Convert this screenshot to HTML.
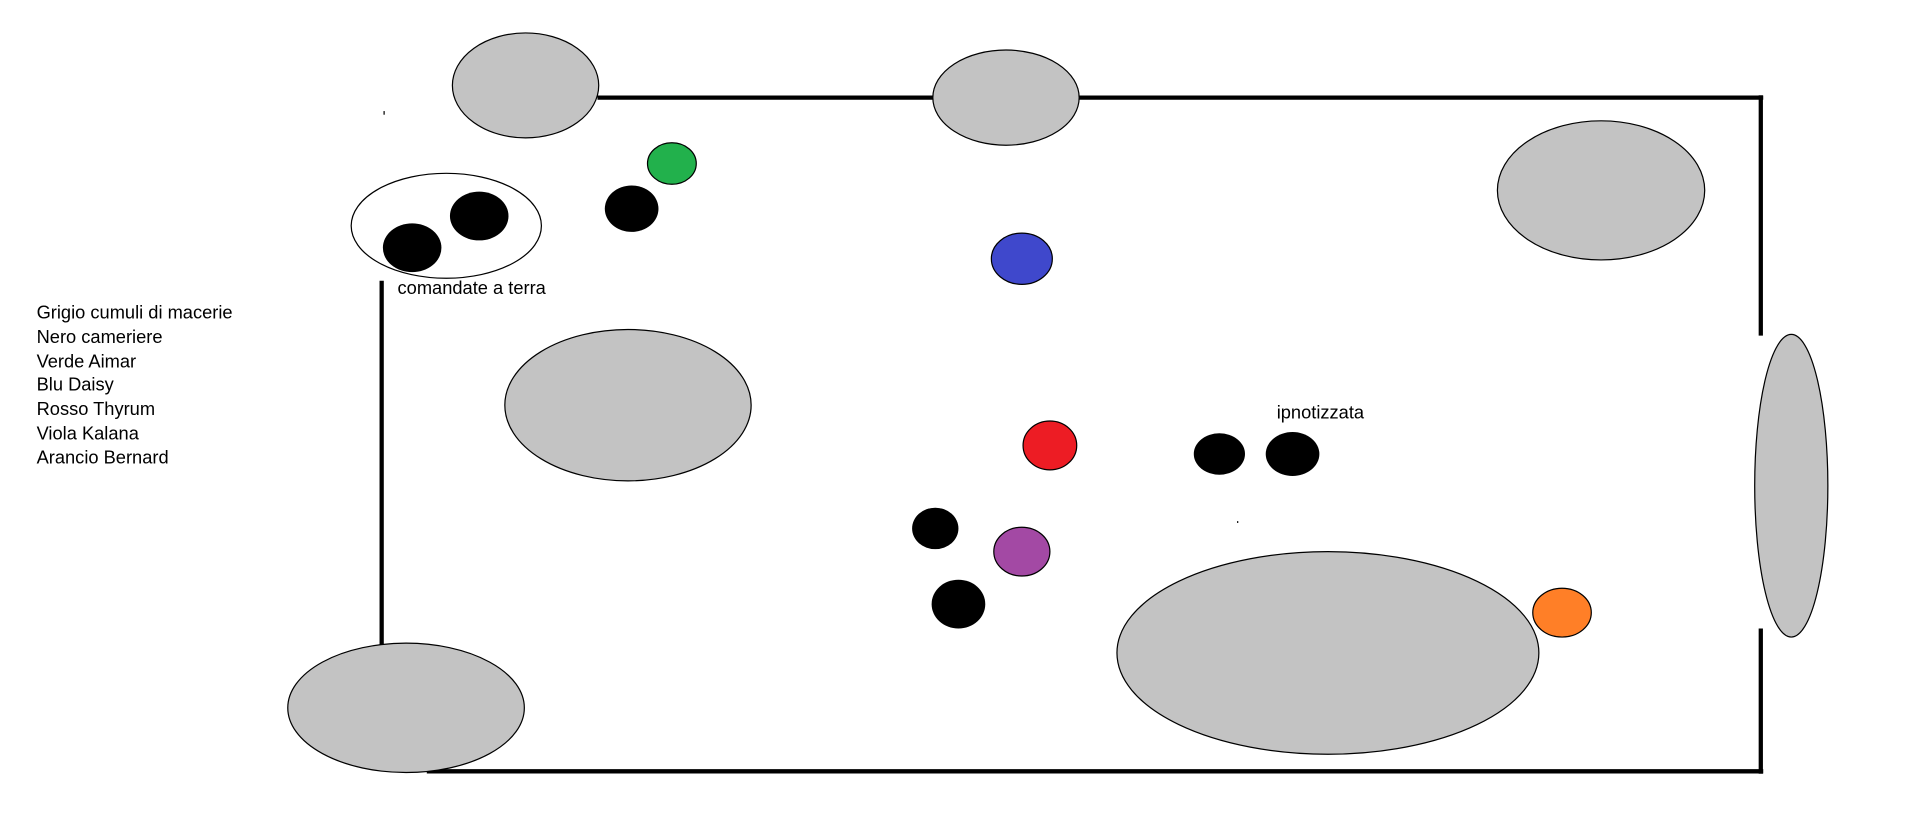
<!DOCTYPE html>
<html><head><meta charset="utf-8"><style>
html,body{margin:0;padding:0;background:#fff;width:1912px;height:825px;overflow:hidden}
svg{display:block}
text{font-family:"Liberation Sans",sans-serif;font-size:15px;fill:#000}
</style></head><body>
<svg width="1912" height="825" viewBox="0 0 1568 676" preserveAspectRatio="none">
<g stroke="#000" stroke-width="3.5" fill="none">
<line x1="490" y1="80" x2="765" y2="80"/>
<line x1="885" y1="80" x2="1446" y2="80"/>
<line x1="1444" y1="78" x2="1444" y2="275"/>
<line x1="1444" y1="515" x2="1444" y2="634"/>
<line x1="350" y1="632" x2="1446" y2="632"/>
<line x1="313" y1="230" x2="313" y2="536"/>
</g>
<rect x="314.5" y="91" width="1" height="3" fill="#000"/>
<rect x="1014.5" y="427" width="1" height="1.5" fill="#000"/>
<g fill="#c3c3c3" stroke="#000" stroke-width="1">
<ellipse cx="431" cy="70" rx="60" ry="43"/>
<ellipse cx="825" cy="80" rx="60" ry="39"/>
<ellipse cx="1313" cy="156" rx="85" ry="57"/>
<ellipse cx="1469" cy="398" rx="30" ry="124"/>
<ellipse cx="515" cy="332" rx="101" ry="62"/>
<ellipse cx="1089" cy="535" rx="173" ry="83"/>
<ellipse cx="333" cy="580" rx="97" ry="53"/>
</g>
<ellipse cx="366" cy="185" rx="78" ry="43" fill="#fff" stroke="#000" stroke-width="1"/>
<g fill="#000">
<ellipse cx="393" cy="177" rx="24" ry="20"/>
<ellipse cx="338" cy="203" rx="24" ry="20"/>
<ellipse cx="518" cy="171" rx="22" ry="19"/>
<ellipse cx="1000" cy="372" rx="21" ry="17"/>
<ellipse cx="1060" cy="372" rx="22" ry="18"/>
<ellipse cx="767" cy="433" rx="19" ry="17"/>
<ellipse cx="786" cy="495" rx="22" ry="20"/>
</g>
<g stroke="#000" stroke-width="1">
<ellipse cx="551" cy="134" rx="20" ry="17" fill="#22b14c"/>
<ellipse cx="838" cy="212" rx="25" ry="21" fill="#3f48cc"/>
<ellipse cx="861" cy="365" rx="22" ry="20" fill="#ed1c24"/>
<ellipse cx="838" cy="452" rx="23" ry="20" fill="#a349a4"/>
<ellipse cx="1281" cy="502" rx="24" ry="20" fill="#ff7f27"/>
</g>
<text x="326" y="241">comandate a terra</text>
<text x="1047" y="343">ipnotizzata</text>
<text x="30" y="261">Grigio cumuli di macerie</text>
<text x="30" y="281">Nero cameriere</text>
<text x="30" y="301">Verde Aimar</text>
<text x="30" y="320">Blu Daisy</text>
<text x="30" y="340">Rosso Thyrum</text>
<text x="30" y="360">Viola Kalana</text>
<text x="30" y="380">Arancio Bernard</text>
</svg>
</body></html>
